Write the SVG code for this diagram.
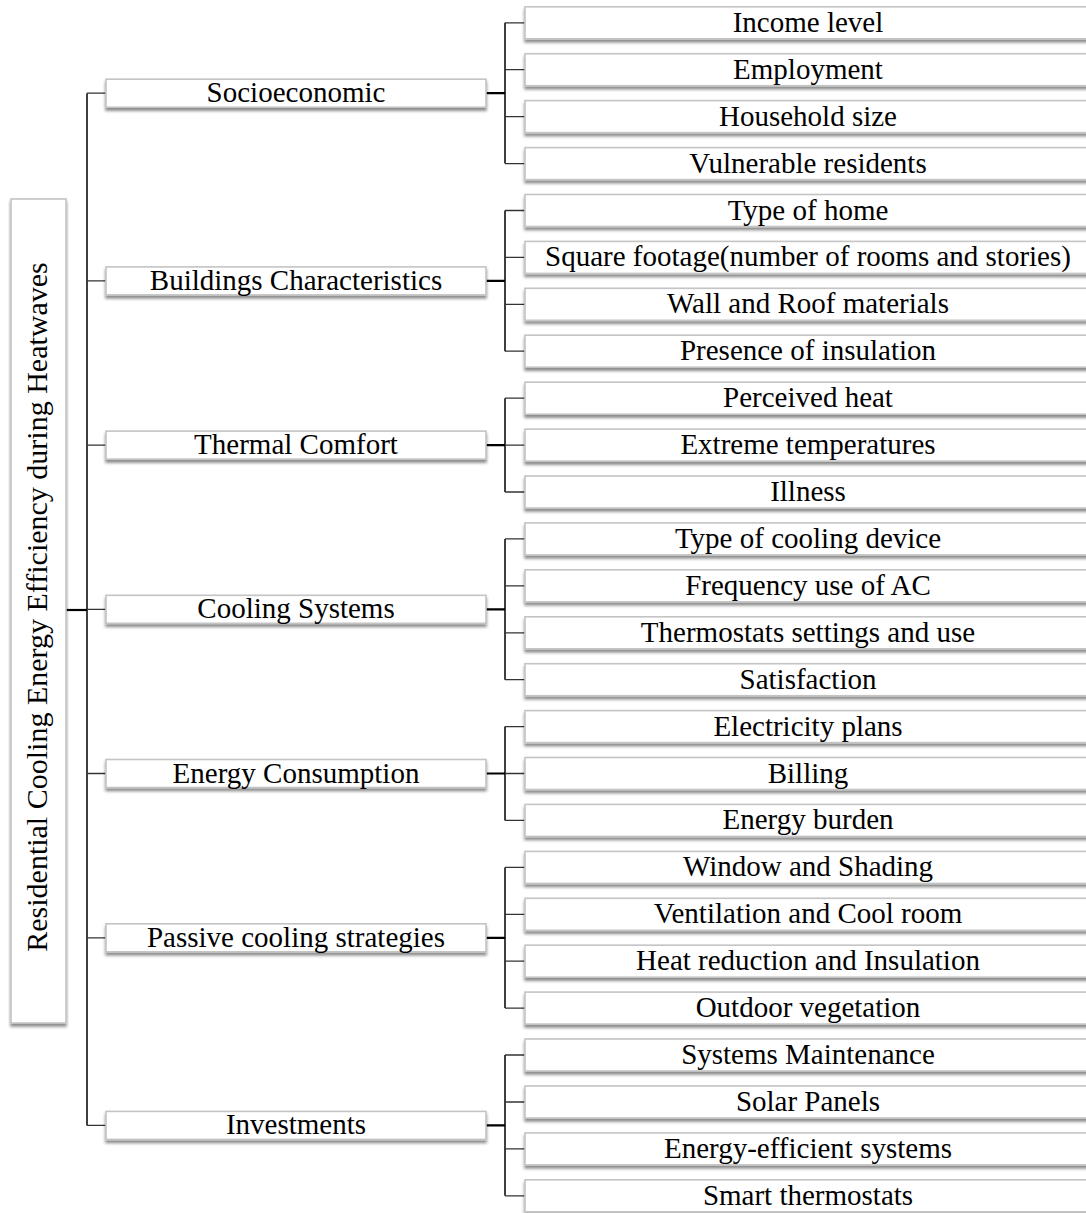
<svg xmlns="http://www.w3.org/2000/svg" width="1086" height="1213" viewBox="0 0 1086 1213">
<defs>
<filter id="sh" x="-5%" y="-30%" width="110%" height="170%">
<feDropShadow dx="0" dy="3" stdDeviation="1.6" flood-color="#000" flood-opacity="0.45"/>
</filter>
<style>
.box{fill:#fff;stroke:#c4c4c4;stroke-width:1.6;filter:url(#sh)}
.t{font-family:"Liberation Serif","Times New Roman",serif;font-size:29px;fill:#000;text-anchor:middle}
.rt{font-size:30px}
.ln{fill:none;stroke:#000;stroke-width:1.5}
.tk{fill:none;stroke:#333;stroke-width:1.3}
.st{fill:none;stroke:#000;stroke-width:2.2}
</style>
</defs>
<rect width="1086" height="1213" fill="#fff"/>
<g id="connectors">
<path class="st" d="M66 610H87"/>
<path class="ln" d="M87 93.2V1125.4"/>
<path class="tk" d="M87 93.2H106M87 280.9H106M87 445.1H106M87 609.3H106M87 773.5H106M87 937.8H106M87 1125.4H106"/>
<path class="st" d="M486 93.2H505M486 280.9H505M486 445.1H505M486 609.3H505M486 773.5H505M486 937.8H505M486 1125.4H505"/>
<path class="ln" d="M505 22.8V163.6M505 210.5V351.2M505 398.2V492M505 538.9V679.7M505 726.6V820.4M505 867.4V1008.1M505 1055V1195.8"/>
<path class="tk" d="M505 22.8H525M505 69.7H525M505 116.6H525M505 163.6H525M505 210.5H525M505 257.4H525M505 304.3H525M505 351.2H525M505 398.2H525M505 445.1H525M505 492H525M505 538.9H525M505 585.8H525M505 632.8H525M505 679.7H525M505 726.6H525M505 773.5H525M505 820.4H525M505 867.4H525M505 914.3H525M505 961.2H525M505 1008.1H525M505 1055H525M505 1102H525M505 1148.9H525M505 1195.8H525"/>
</g>
<g id="root">
<rect class="box" x="11" y="199" width="55" height="824"/>
<text class="t rt" transform="translate(47,607) rotate(-90)">Residential Cooling Energy Efficiency during Heatwaves</text>
</g>
<g id="socioeconomic"><rect class="box" x="106" y="79.2" width="380" height="28"/><text class="t" x="296" y="102.2">Socioeconomic</text></g>
<g id="buildings"><rect class="box" x="106" y="266.9" width="380" height="28"/><text class="t" x="296" y="289.9">Buildings Characteristics</text></g>
<g id="thermal"><rect class="box" x="106" y="431.1" width="380" height="28"/><text class="t" x="296" y="454.1">Thermal Comfort</text></g>
<g id="cooling"><rect class="box" x="106" y="595.3" width="380" height="28"/><text class="t" x="296" y="618.3">Cooling Systems</text></g>
<g id="energy"><rect class="box" x="106" y="759.5" width="380" height="28"/><text class="t" x="296" y="782.5">Energy Consumption</text></g>
<g id="passive"><rect class="box" x="106" y="923.8" width="380" height="28"/><text class="t" x="296" y="946.8">Passive cooling strategies</text></g>
<g id="investments"><rect class="box" x="106" y="1111.4" width="380" height="28"/><text class="t" x="296" y="1134.4">Investments</text></g>
<g id="leaf0"><rect class="box" x="525" y="6.8" width="580" height="32"/><text class="t" x="808" y="31.8">Income level</text></g>
<g id="leaf1"><rect class="box" x="525" y="53.7" width="580" height="32"/><text class="t" x="808" y="78.7">Employment</text></g>
<g id="leaf2"><rect class="box" x="525" y="100.6" width="580" height="32"/><text class="t" x="808" y="125.6">Household size</text></g>
<g id="leaf3"><rect class="box" x="525" y="147.6" width="580" height="32"/><text class="t" x="808" y="172.6">Vulnerable residents</text></g>
<g id="leaf4"><rect class="box" x="525" y="194.5" width="580" height="32"/><text class="t" x="808" y="219.5">Type of home</text></g>
<g id="leaf5"><rect class="box" x="525" y="241.4" width="580" height="32"/><text class="t" x="808" y="266.4">Square footage(number of rooms and stories)</text></g>
<g id="leaf6"><rect class="box" x="525" y="288.3" width="580" height="32"/><text class="t" x="808" y="313.3">Wall and Roof materials</text></g>
<g id="leaf7"><rect class="box" x="525" y="335.2" width="580" height="32"/><text class="t" x="808" y="360.2">Presence of insulation</text></g>
<g id="leaf8"><rect class="box" x="525" y="382.2" width="580" height="32"/><text class="t" x="808" y="407.2">Perceived heat</text></g>
<g id="leaf9"><rect class="box" x="525" y="429.1" width="580" height="32"/><text class="t" x="808" y="454.1">Extreme temperatures</text></g>
<g id="leaf10"><rect class="box" x="525" y="476" width="580" height="32"/><text class="t" x="808" y="501">Illness</text></g>
<g id="leaf11"><rect class="box" x="525" y="522.9" width="580" height="32"/><text class="t" x="808" y="547.9">Type of cooling device</text></g>
<g id="leaf12"><rect class="box" x="525" y="569.8" width="580" height="32"/><text class="t" x="808" y="594.8">Frequency use of AC</text></g>
<g id="leaf13"><rect class="box" x="525" y="616.8" width="580" height="32"/><text class="t" x="808" y="641.8">Thermostats settings and use</text></g>
<g id="leaf14"><rect class="box" x="525" y="663.7" width="580" height="32"/><text class="t" x="808" y="688.7">Satisfaction</text></g>
<g id="leaf15"><rect class="box" x="525" y="710.6" width="580" height="32"/><text class="t" x="808" y="735.6">Electricity plans</text></g>
<g id="leaf16"><rect class="box" x="525" y="757.5" width="580" height="32"/><text class="t" x="808" y="782.5">Billing</text></g>
<g id="leaf17"><rect class="box" x="525" y="804.4" width="580" height="32"/><text class="t" x="808" y="829.4">Energy burden</text></g>
<g id="leaf18"><rect class="box" x="525" y="851.4" width="580" height="32"/><text class="t" x="808" y="876.4">Window and Shading</text></g>
<g id="leaf19"><rect class="box" x="525" y="898.3" width="580" height="32"/><text class="t" x="808" y="923.3">Ventilation and Cool room</text></g>
<g id="leaf20"><rect class="box" x="525" y="945.2" width="580" height="32"/><text class="t" x="808" y="970.2">Heat reduction and Insulation</text></g>
<g id="leaf21"><rect class="box" x="525" y="992.1" width="580" height="32"/><text class="t" x="808" y="1017.1">Outdoor vegetation</text></g>
<g id="leaf22"><rect class="box" x="525" y="1039" width="580" height="32"/><text class="t" x="808" y="1064">Systems Maintenance</text></g>
<g id="leaf23"><rect class="box" x="525" y="1086" width="580" height="32"/><text class="t" x="808" y="1111">Solar Panels</text></g>
<g id="leaf24"><rect class="box" x="525" y="1132.9" width="580" height="32"/><text class="t" x="808" y="1157.9">Energy-efficient systems</text></g>
<g id="leaf25"><rect class="box" x="525" y="1179.8" width="580" height="32"/><text class="t" x="808" y="1204.8">Smart thermostats</text></g>
</svg>
